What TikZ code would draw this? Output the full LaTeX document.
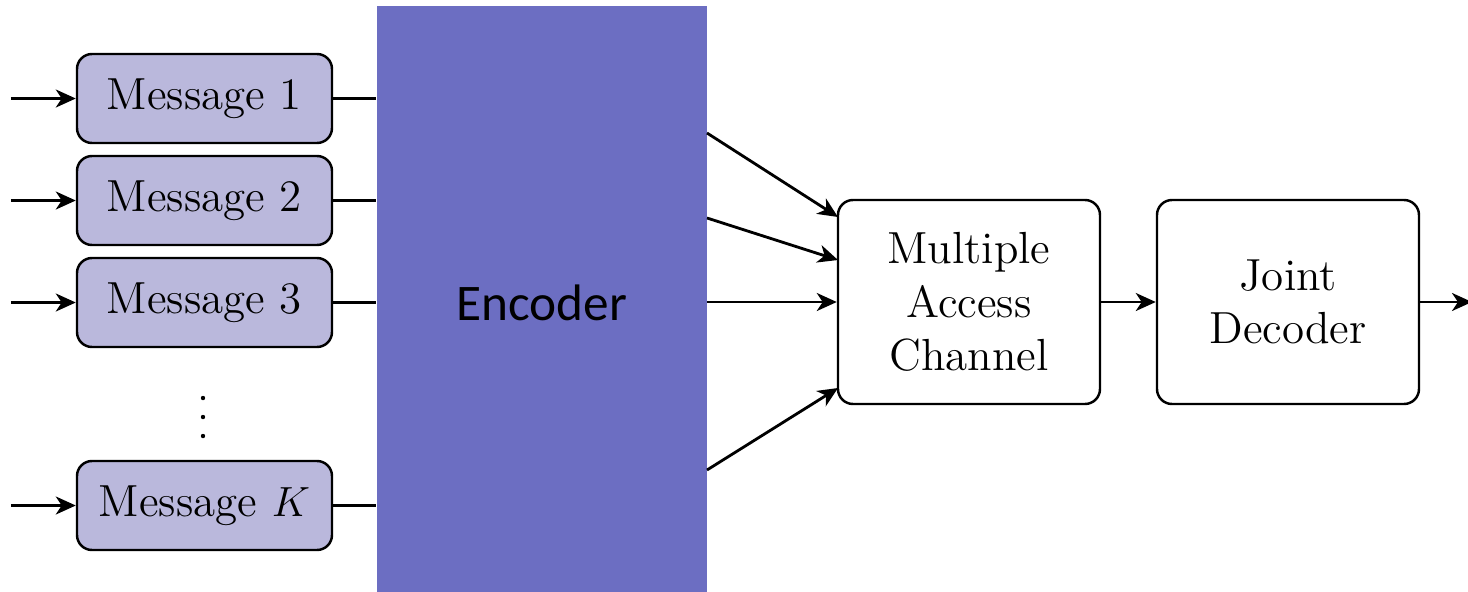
\documentclass[tikz,border=0pt]{standalone}
\usepackage{amsmath}
\usepackage{fontspec}
\usetikzlibrary{calc,arrows.meta}
\newfontfamily\encfont{Carlito}
\definecolor{msgfill}{HTML}{BAB8DC}
\definecolor{encfill}{HTML}{6C6EC2}
\begin{document}
\begin{tikzpicture}[>={Stealth[length=2mm,width=1.8mm,inset=0.6mm]}, line width=0.8pt,
    msgbox/.style={draw, line width=0.7pt, fill=msgfill, rounded corners=0.15cm,
        minimum width=2.55cm, minimum height=0.89cm, font=\fontsize{12.8}{15}\selectfont},
    blockbox/.style={draw, line width=0.7pt, fill=white, rounded corners=0.15cm,
        minimum width=2.62cm, minimum height=2.04cm, align=center,
        font=\fontsize{12.8}{15.2}\selectfont}]
        \useasboundingbox (0,0) rectangle (14.68,-5.91);

        % Messages
        \node[msgbox] (m1) at (2.045,-0.985) {Message 1};
        \node[msgbox] (m2) at (2.045,-2.005) {Message 2};
        \node[msgbox] (m3) at (2.045,-3.025) {Message 3};
        \node[msgbox] (mK) at (2.045,-5.055) {Message $K$};
        \foreach \y in {-3.98,-4.17,-4.36}
            \fill (2.03,\y) circle (0.022);

        % Encoder
        \node[fill=encfill, inner sep=0pt, minimum width=3.3cm, minimum height=5.9cm] (enc) at (5.42,-3.01) {};
        \node[font=\encfont\fontsize{14.6}{16}\selectfont] (enclabel) at (enc.center |- m3) {Encoder};

        % Channel and decoder
        \node[blockbox] (mac) at (9.69,-3.02) {Multiple\\Access\\Channel};
        \node[blockbox] (dec) at (12.88,-3.02) {Joint\\Decoder};

        % Inputs
        \foreach \m in {m1,m2,m3,mK} {
            \coordinate (in\m) at ($(\m.west)+(-0.65,0)$);
            \draw[->] (in\m) -- (\m.west);
            \draw (\m.east) -- (\m.east -| enc.west);
        }

        % Encoder to channel
        \coordinate (e1) at (7.07,-1.33);
        \coordinate (e2) at (7.07,-2.18);
        \coordinate (e3) at (7.07,-3.02);
        \coordinate (e4) at (7.07,-4.70);
        \coordinate (c1) at (8.38,-2.17);
        \coordinate (c2) at (8.38,-2.60);
        \coordinate (c4) at (8.38,-3.88);
        \draw[->] (e1) -- (c1);
        \draw[->] (e2) -- (c2);
        \draw[->] (e3) -- (mac.west);
        \draw[->] (e4) -- (c4);

        % Decoding
        \coordinate (out) at (14.72,-3.02);
        \draw[->] (mac.east) -- (dec.west);
        \draw[->] (dec.east) -- (out);
    \end{tikzpicture}
\end{document}
